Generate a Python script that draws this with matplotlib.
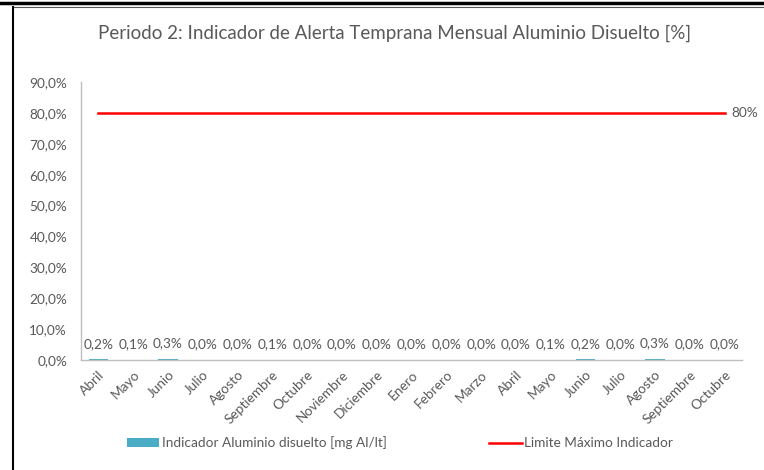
import matplotlib
matplotlib.use("Agg")
import matplotlib.pyplot as plt
from matplotlib.lines import Line2D
from matplotlib.patches import Patch

plt.rcParams['font.family'] = ['Lato', 'DejaVu Sans']

months = ["Abril", "Mayo", "Junio", "Julio", "Agosto", "Septiembre", "Octubre",
          "Noviembre", "Diciembre", "Enero", "Febrero", "Marzo", "Abril", "Mayo",
          "Junio", "Julio", "Agosto", "Septiembre", "Octubre"]
indicator = [0.002, 0.001, 0.003, 0.0, 0.0, 0.001, 0.0, 0.0, 0.0, 0.0, 0.0,
             0.0, 0.0, 0.001, 0.002, 0.0, 0.003, 0.0, 0.0]
limit = [0.80] * len(months)
yticks = [0.0, 0.1, 0.2, 0.3, 0.4, 0.5, 0.6, 0.7, 0.8, 0.9]

TEXT = "#595959"
BAR = "#4BACC6"
RED = "#FF0000"
FS = 9.8

fig = plt.figure(figsize=(7.64, 4.70), dpi=100)
ax = fig.add_axes([81 / 764, 1 - 360 / 470, (742 - 81) / 764, (360 - 82) / 470])

x = list(range(len(months)))
ax.bar(x, indicator, width=0.55, color=BAR)
ax.plot(x, limit, color=RED, lw=1.8)

for xi, v in zip(x, indicator):
    ax.annotate(f"{v * 100:.1f}%".replace(".", ","), (xi, v), xytext=(0, 7),
                textcoords="offset points", ha="center", va="bottom",
                fontsize=FS, color=TEXT)
ax.annotate("80%", (x[-1], limit[-1]), xytext=(5, 0), textcoords="offset points",
            ha="left", va="center", fontsize=FS, color=TEXT)

ax.set_xlim(-0.5, len(months) - 0.5)
ax.set_ylim(0, 0.9)
ax.set_yticks(yticks)
ax.set_yticklabels([f"{t * 100:.1f}%".replace(".", ",") for t in yticks],
                   fontsize=FS, color=TEXT)
ax.set_xticks(x)
ax.set_xticklabels(months, rotation=45, ha="right", rotation_mode="anchor",
                   fontsize=FS, color=TEXT)
ax.tick_params(axis="both", length=0)
ax.tick_params(axis="y", pad=10)
ax.tick_params(axis="x", pad=6)
for s in ["top", "right"]:
    ax.spines[s].set_visible(False)
for s in ["left", "bottom"]:
    ax.spines[s].set_color("#BFBFBF")
    ax.spines[s].set_linewidth(1.0)

fig.text(395 / 764, 1 - 33 / 470, "Periodo 2: Indicador de Alerta Temprana Mensual Aluminio Disuelto [%]",
         ha="center", va="center", fontsize=13.5, color=TEXT)

handles = [Patch(facecolor=BAR, edgecolor="none"),
           Line2D([0], [0], color=RED, lw=1.8)]
labels = ["Indicador Aluminio disuelto [mg Al/lt]", "Limite Máximo Indicador"]
fig.legend(handles, labels, loc="center", bbox_to_anchor=(400 / 764, 1 - 443 / 470),
           ncol=2, frameon=False, fontsize=FS, labelcolor=TEXT,
           columnspacing=7.5, handlelength=2.4, handletextpad=0.2, handleheight=0.6)

# page frame around the chart
fig.add_artist(Line2D([0, 1], [1 - 3 / 470, 1 - 3 / 470], color="black", lw=2.5))
fig.add_artist(Line2D([13 / 764, 1], [1 - 7 / 470, 1 - 7 / 470], color="#555555", lw=0.8))
fig.add_artist(Line2D([13 / 764, 13 / 764], [0, 1 - 7 / 470], color="black", lw=1.5))

fig.savefig("out.png", dpi=100)
